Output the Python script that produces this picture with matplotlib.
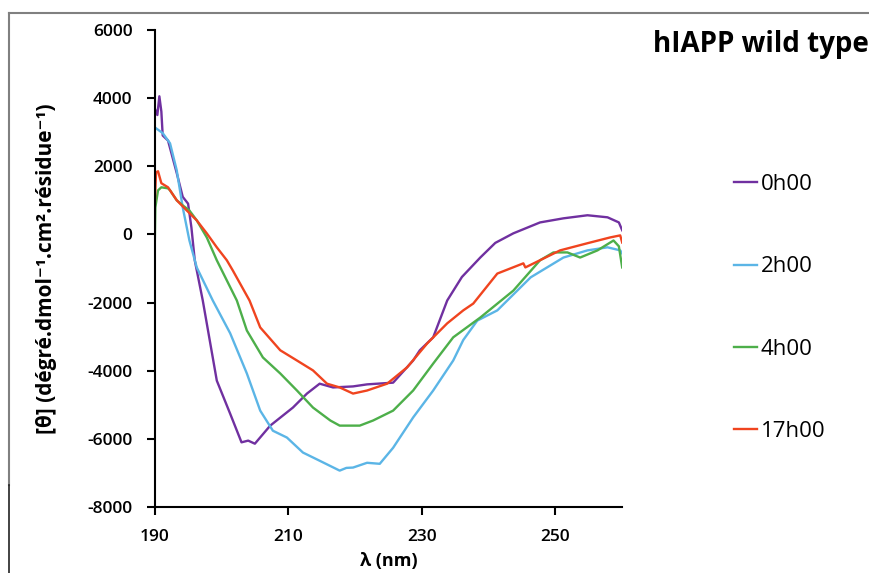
import matplotlib.pyplot as plt
from matplotlib.lines import Line2D

# --- data (wavelength nm, ellipticity) ---
wl_0h = [190, 190.4, 190.7, 191.0, 191.2, 192.0, 193.3, 194.2, 195.0, 195.5, 196.0,
         197.2, 199.3, 201.3, 203.0, 204.0, 205.0, 207.3, 210.7, 212.8, 214.7, 216.7,
         219.7, 221.8, 225.7, 228.7, 229.7, 231.7, 233.8, 236.0, 238.75, 241.0,
         243.7, 247.7, 251.2, 254.8, 257.8, 259.5, 260.0]
th_0h = [3700, 3500, 4050, 3600, 2900, 2750, 1800, 1100, 900, 200, -760,
         -1940, -4290, -5260, -6100, -6050, -6140, -5610, -5080, -4670, -4380, -4490,
         -4460, -4400, -4350, -3700, -3400, -3020, -1940, -1250, -680, -250,
         30, 350, 470, 560, 500, 350, 120]

wl_2h = [190, 191.2, 192.3, 193.3, 194.2, 195.2, 196.3, 198.7, 201.3, 203.8, 205.8,
         207.7, 209.8, 212.2, 214.7, 217.7, 218.7, 219.7, 221.8, 223.7, 225.7, 228.7,
         231.7, 234.7, 236.2, 238.3, 241.3, 246.3, 251.2, 254.8, 257.8, 259.7, 260.0]
th_2h = [3140, 2970, 2670, 1880, 790, -180, -970, -1940, -2900, -4080, -5170,
         -5760, -5960, -6400, -6640, -6930, -6850, -6840, -6700, -6730, -6260, -5370,
         -4580, -3700, -3100, -2530, -2230, -1260, -680, -470, -380, -470, -560]

wl_4h = [190, 190.1, 190.5, 191.0, 192.0, 192.3, 193.3, 194.2, 195.2, 196.3, 197.8,
         199.3, 202.3, 203.8, 206.2, 208.8, 211.3, 213.7, 216.3, 217.7, 220.7, 222.7,
         225.7, 228.7, 231.7, 234.7, 238.75, 243.7, 247.7, 249.7, 251.8, 253.7,
         256.3, 258.7, 259.5, 260.0]
th_4h = [-470, 790, 1290, 1380, 1350, 1290, 1000, 850, 700, 410, -90,
         -760, -1940, -2820, -3610, -4080, -4580, -5080, -5460, -5610, -5610, -5460,
         -5170, -4580, -3790, -3020, -2440, -1650, -760, -530, -530, -680,
         -470, -180, -350, -970]

wl_17h = [190, 190.2, 190.5, 191.0, 192.0, 193.3, 194.8, 196.3, 197.8, 199.3, 200.8,
          201.7, 204.2, 205.8, 208.8, 211.3, 213.7, 215.8, 217.7, 219.7, 221.8, 224.8,
          227.8, 230.8, 233.8, 236.2, 237.7, 241.3, 245.2, 245.5, 250.7, 254.8,
          258.2, 259.7, 260.0]
th_17h = [790, 1820, 1850, 1500, 1380, 1000, 700, 410, 30, -380, -760,
          -1060, -1940, -2730, -3400, -3700, -3990, -4380, -4490, -4670, -4580, -4380,
          -3900, -3200, -2610, -2230, -2030, -1150, -850, -970, -470, -260,
          -90, -30, -240]

labels = ["0h00", "2h00", "4h00", "17h00"]
colors = ["#7030A0", "#5BB5E6", "#4DAF4A", "#F0441F"]

x_ticks = [190, 210, 230, 250]
y_ticks = [-8000, -6000, -4000, -2000, 0, 2000, 4000, 6000]

plt.rcParams['font.family'] = ['Open Sans', 'DejaVu Sans']
plt.rcParams['axes.unicode_minus'] = False

fig = plt.figure(figsize=(8.69, 5.73), dpi=100)
ax = fig.add_axes([0.178, 0.115, 0.538, 0.833])

series = [(wl_0h, th_0h), (wl_2h, th_2h), (wl_4h, th_4h), (wl_17h, th_17h)]
for (x, y), lab, c in zip(series, labels, colors):
    ax.plot(x, y, color=c, lw=1.7, label=lab)

ax.set_xlim(190, 260)
ax.set_ylim(-8000, 6000)
ax.set_xticks(x_ticks)
ax.set_yticks(y_ticks)
for s in ["top", "right"]:
    ax.spines[s].set_visible(False)
for s in ["left", "bottom"]:
    ax.spines[s].set_linewidth(1.5)
ax.tick_params(direction="out", length=6, width=1.5, labelsize=12.5, pad=10)
for t in ax.get_xticklabels() + ax.get_yticklabels():
    t.set_fontweight("semibold")

ax.set_xlabel("λ (nm)", fontsize=13, fontweight="bold", labelpad=5)
ax.yaxis.set_label_coords(-0.21, 0.51)
ax.set_ylabel("[θ] (dégré.dmol⁻¹.cm².résidue⁻¹)", fontsize=15, fontweight="bold")

fig.text(0.751, 0.922, "hIAPP wild type", fontsize=20, fontweight="bold",
         ha="left", va="center")

fig.legend(loc="upper left", bbox_to_anchor=(0.822, 0.731), frameon=False,
           fontsize=16, handlelength=1.0, handletextpad=0.2, labelspacing=2.76)

# outer frame of the original screenshot
fig.add_artist(Line2D([9 / 869, 1], [1 - 13 / 573] * 2, color="#808080", lw=1.5))
fig.add_artist(Line2D([9 / 869] * 2, [1 - 13 / 573, 1 - 485 / 573], color="#808080", lw=1.5))
fig.add_artist(Line2D([9 / 869] * 2, [1 - 485 / 573, 0], color="#222222", lw=1.2))

fig.savefig("out.png", dpi=100)
